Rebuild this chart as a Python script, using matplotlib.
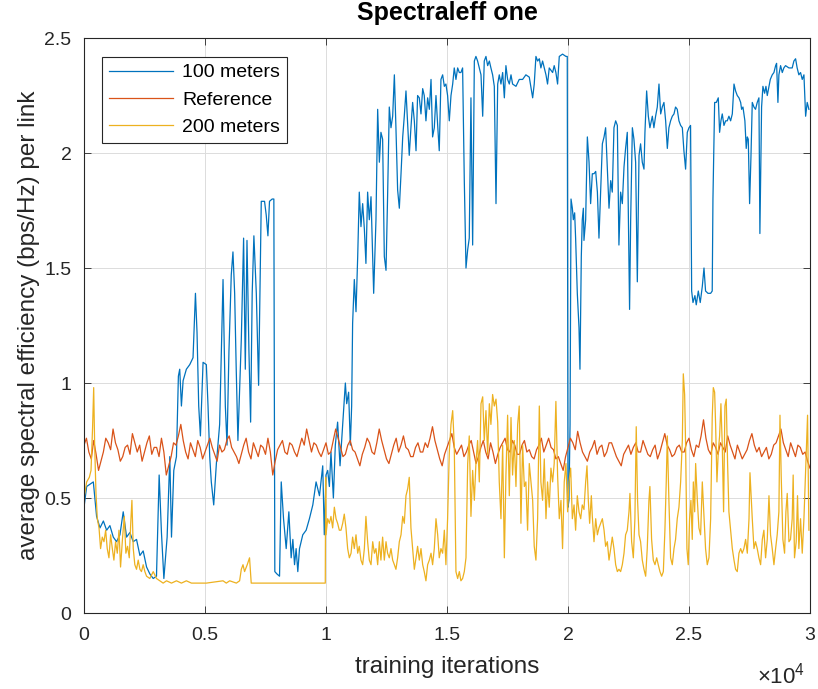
import numpy as np
import matplotlib
matplotlib.use("Agg")
import matplotlib.pyplot as plt
from matplotlib.ticker import FuncFormatter

# ---- data (iterations, bps/Hz) ----
blue_iters = [
    0, 110, 250, 385, 520, 660, 800, 935, 1070, 1210, 1345, 1485, 1620, 1760, 1895,
    2035, 2170, 2310, 2445, 2585, 2720, 2860, 2995, 3105, 3200, 3300, 3435, 3545, 3615,
    3710, 3820, 3900, 3955, 4025, 4095, 4230, 4370, 4505, 4605, 4670, 4740, 4810, 4920,
    5055, 5125, 5195, 5260, 5360, 5470, 5605, 5745, 5840, 5910, 5990, 6085, 6155, 6225,
    6290, 6360, 6500, 6595, 6665, 6735, 6815, 6885, 6950, 7020, 7120, 7215, 7325, 7460,
    7530, 7600, 7665, 7775, 7845, 7885, 7970, 8080, 8150, 8245, 8355, 8465, 8560, 8630,
    8700, 8765, 8835, 8905, 9040, 9180, 9315, 9455, 9590, 9730, 9865, 9930,
    10000, 10070, 10140, 10205, 10305, 10385, 10480, 10580, 10690, 10800, 10855, 10935,
    11005, 11060, 11100, 11170, 11240, 11310, 11375, 11445, 11515, 11585, 11650, 11720,
    11790, 11860, 11930, 11970, 12065, 12135, 12205, 12270, 12340, 12410, 12480, 12545,
    12615, 12685, 12755, 12825, 12890, 12960, 13030, 13100, 13170, 13235, 13305, 13375,
    13440, 13510, 13580, 13650, 13720, 13785, 13855, 13925, 13995, 14060, 14130, 14200,
    14270, 14340, 14405, 14475, 14545, 14615, 14680, 14750, 14820, 14890, 14955, 15025,
    15095, 15165, 15235, 15300, 15370, 15440, 15510, 15575, 15645, 15715, 15785, 15855,
    15920, 15990, 16060, 16130, 16195, 16265, 16335, 16405, 16475, 16540, 16610, 16680,
    16750, 16815, 16885, 16955, 17025, 17095, 17160, 17230, 17300, 17370, 17435, 17505,
    17575, 17645, 17710, 17850, 17985, 18125, 18260, 18400, 18540, 18605, 18675, 18745,
    18815, 18880, 18950, 19090, 19155, 19225, 19365, 19430, 19500, 19570, 19640, 19775,
    19915, 19970,
    20000, 20040, 20085, 20125, 20180, 20220, 20275, 20315, 20385, 20455, 20495, 20550,
    20590, 20635, 20660, 20730, 20800, 20870, 20935, 21005, 21075, 21145, 21215, 21280,
    21350, 21420, 21490, 21555, 21625, 21695, 21765, 21830, 21900, 21970, 22040, 22105,
    22175, 22245, 22315, 22380, 22450, 22545, 22590, 22660, 22725, 22795, 22865, 22935,
    23000, 23070, 23140, 23180, 23250, 23320, 23385, 23485, 23550, 23620, 23690, 23760,
    23830, 23895, 23965, 24035, 24105, 24170, 24240, 24310, 24380, 24445, 24515, 24585,
    24655, 24725, 24790, 24860, 24930, 25000, 25065, 25110, 25165, 25245, 25300, 25385,
    25465, 25550, 25620, 25685, 25785, 25895, 25960, 25990, 26060, 26130, 26210, 26265,
    26320, 26375, 26445, 26515, 26580, 26650, 26720, 26790, 26860, 26925, 26995, 27065,
    27135, 27175, 27230, 27310, 27365, 27410, 27450, 27505, 27560, 27615, 27685, 27750,
    27820, 27890, 27930, 28000, 28055, 28125, 28180, 28235, 28305, 28360, 28440, 28510,
    28580, 28620, 28675, 28715, 28785, 28855, 28920, 28990, 29130, 29265, 29335, 29405,
    29470, 29540, 29610, 29680, 29750, 29820, 29885, 29955,
]
blue_vals = [
    0.46, 0.55, 0.56, 0.57, 0.42, 0.37, 0.40, 0.36, 0.38, 0.33, 0.31, 0.34, 0.44, 0.33, 0.35,
    0.31, 0.32, 0.25, 0.27, 0.20, 0.17, 0.15, 0.16, 0.60, 0.35, 0.15, 0.33, 0.68, 0.33,
    0.62, 0.68, 1.03, 1.06, 0.90, 1.01, 1.06, 1.08, 1.11, 1.39, 1.22, 0.90, 0.77, 1.09,
    1.08, 0.90, 0.68, 0.57, 0.47, 0.65, 0.82, 1.45, 0.90, 0.73, 1.14, 1.47, 1.57, 1.39,
    1.06, 0.75, 1.19, 1.63, 1.06, 1.62, 1.14, 0.83, 1.39, 1.64, 1.39, 0.99, 1.79, 1.79,
    1.73, 1.64, 1.79, 1.80, 1.80, 0.18, 0.17, 0.16, 0.57, 0.41, 0.28, 0.44, 0.24, 0.32,
    0.21, 0.28, 0.18, 0.28, 0.34, 0.36, 0.41, 0.47, 0.57, 0.51, 0.64, 0.34,
    0.60, 0.62, 0.55, 0.70, 0.50, 0.73, 0.83, 0.64, 0.82, 1.00, 0.91, 0.96,
    0.73, 0.90, 1.26, 1.45, 1.31, 1.55, 1.83, 1.68, 1.78, 1.67, 1.52, 1.83,
    1.71, 1.81, 1.55, 1.39, 1.71, 2.19, 1.96, 2.09, 2.06, 1.55, 1.49, 1.81,
    2.20, 2.11, 2.16, 2.34, 2.11, 1.84, 1.76, 1.91, 2.07, 2.16, 2.27, 2.12,
    1.99, 2.11, 2.22, 2.14, 2.01, 2.25, 2.24, 2.17, 2.28, 2.25, 2.14, 2.24,
    2.19, 2.32, 2.07, 2.11, 2.25, 2.12, 2.01, 2.32, 2.34, 2.29, 2.30, 2.25,
    2.14, 2.25, 2.30, 2.37, 2.32, 2.37, 2.35, 2.35, 2.37, 1.88, 1.50, 1.58,
    1.63, 2.24, 1.60, 2.40, 2.42, 2.40, 2.37, 2.34, 2.16, 2.40, 2.42, 2.38,
    2.40, 2.37, 2.34, 2.29, 1.78, 2.30, 2.34, 2.30, 2.35, 2.24, 2.38, 2.32,
    2.30, 2.34, 2.30, 2.29, 2.32, 2.32, 2.34, 2.33, 2.24, 2.30, 2.42, 2.40,
    2.41, 2.37, 2.40, 2.34, 2.30, 2.37, 2.35, 2.38, 2.35, 2.30, 2.42, 2.43,
    2.42, 2.42,
    0.46, 0.49, 0.82, 1.80, 1.76, 1.71, 1.74, 1.63, 1.39, 1.24, 1.06, 1.55,
    1.71, 1.76, 1.62, 1.71, 2.07, 1.96, 1.78, 1.91, 1.91, 1.92, 1.83, 1.63,
    1.84, 2.04, 2.07, 2.11, 1.93, 1.76, 1.88, 1.83, 2.11, 2.14, 2.12, 1.60,
    1.83, 1.78, 1.94, 2.02, 2.09, 1.32, 1.71, 2.11, 2.06, 1.96, 1.44, 1.99,
    2.04, 1.96, 1.93, 2.09, 2.27, 2.16, 2.11, 2.16, 2.11, 2.16, 2.20, 2.30,
    2.17, 2.20, 2.22, 2.14, 2.02, 2.11, 2.14, 2.16, 2.17, 2.20, 2.19, 2.14,
    2.12, 2.11, 2.01, 1.93, 2.09, 2.11, 2.12, 1.40, 1.35, 1.38, 1.34, 1.40,
    1.35, 1.42, 1.50, 1.40, 1.39, 1.39, 1.40, 1.80, 2.22, 2.22, 2.24, 2.09,
    2.14, 2.17, 2.12, 2.14, 2.14, 2.16, 2.14, 2.17, 2.30, 2.27, 2.25, 2.24,
    2.22, 2.19, 2.20, 2.14, 2.02, 2.07, 2.06, 1.78, 1.98, 2.22, 2.20, 2.19,
    2.22, 2.24, 1.65, 2.20, 2.29, 2.26, 2.29, 2.25, 2.29, 2.32, 2.34, 2.35,
    2.38, 2.39, 2.22, 2.34, 2.38, 2.35, 2.37, 2.38, 2.37, 2.37, 2.40, 2.41,
    2.37, 2.34, 2.35, 2.32, 2.34, 2.16, 2.22, 2.19,
]

# reference curve, one reading every 100 iterations
ref_iters = np.arange(0, 30001, 100)
ref_vals = [
    0.73, 0.76, 0.70, 0.67, 0.75, 0.69, 0.62, 0.66, 0.70, 0.76, 0.74, 0.71, 0.80, 0.74, 0.71,
    0.66, 0.68, 0.72, 0.73, 0.69, 0.78, 0.74, 0.70, 0.73, 0.66, 0.70, 0.74, 0.77, 0.69, 0.72,
    0.72, 0.68, 0.76, 0.70, 0.60, 0.64, 0.68, 0.74, 0.73, 0.77, 0.82, 0.75, 0.70, 0.67, 0.74,
    0.71, 0.68, 0.75, 0.72, 0.67, 0.70, 0.73, 0.76, 0.72, 0.69, 0.66, 0.73, 0.70, 0.71, 0.75,
    0.77, 0.72, 0.70, 0.68, 0.65, 0.69, 0.73, 0.76, 0.70, 0.67, 0.74, 0.71, 0.68, 0.73, 0.72,
    0.69, 0.76, 0.70, 0.60, 0.66, 0.71, 0.73, 0.75, 0.70, 0.69, 0.74, 0.73, 0.70, 0.68, 0.72,
    0.76, 0.73, 0.80, 0.75, 0.70, 0.74, 0.73, 0.70, 0.68, 0.71, 0.74, 0.69, 0.70, 0.75, 0.80,
    0.76, 0.72, 0.68, 0.69, 0.73, 0.75, 0.71, 0.70, 0.67, 0.64, 0.69, 0.72, 0.76, 0.74, 0.70,
    0.69, 0.74, 0.80, 0.75, 0.71, 0.67, 0.65, 0.69, 0.73, 0.76, 0.70, 0.73, 0.77, 0.72, 0.71,
    0.68, 0.68, 0.72, 0.74, 0.70, 0.70, 0.74, 0.72, 0.76, 0.81, 0.75, 0.71, 0.67, 0.64, 0.69,
    0.72, 0.75, 0.78, 0.72, 0.69, 0.71, 0.73, 0.68, 0.70, 0.73, 0.75, 0.70, 0.65, 0.68, 0.72,
    0.75, 0.70, 0.67, 0.74, 0.70, 0.65, 0.69, 0.72, 0.74, 0.76, 0.71, 0.70, 0.75, 0.73, 0.69,
    0.69, 0.73, 0.75, 0.70, 0.71, 0.68, 0.67, 0.71, 0.73, 0.76, 0.70, 0.73, 0.76, 0.72, 0.71,
    0.67, 0.68, 0.65, 0.62, 0.68, 0.72, 0.76, 0.74, 0.71, 0.79, 0.74, 0.70, 0.68, 0.66, 0.70,
    0.72, 0.75, 0.69, 0.72, 0.73, 0.68, 0.70, 0.74, 0.74, 0.71, 0.68, 0.66, 0.64, 0.69, 0.71,
    0.73, 0.69, 0.72, 0.74, 0.70, 0.70, 0.75, 0.72, 0.69, 0.68, 0.71, 0.73, 0.67, 0.70, 0.74,
    0.78, 0.73, 0.71, 0.68, 0.69, 0.72, 0.73, 0.70, 0.70, 0.74, 0.76, 0.71, 0.68, 0.73, 0.72,
    0.77, 0.84, 0.76, 0.71, 0.69, 0.74, 0.72, 0.69, 0.74, 0.72, 0.70, 0.77, 0.73, 0.70, 0.67,
    0.73, 0.70, 0.67, 0.69, 0.71, 0.75, 0.78, 0.73, 0.70, 0.72, 0.68, 0.70, 0.72, 0.67, 0.69,
    0.73, 0.74, 0.77, 0.80, 0.74, 0.71, 0.68, 0.74, 0.71, 0.68, 0.73, 0.72, 0.69, 0.70, 0.66,
    0.63,
]

yellow_iters = [
    0, 110, 220, 290, 355, 400, 440, 495, 550, 620, 685, 755, 825, 895, 960, 1030, 1100,
    1170, 1235, 1305, 1375, 1445, 1510, 1595, 1665, 1730, 1800, 1870, 1935, 1980, 2035,
    2100, 2170, 2240, 2310, 2375, 2445, 2515, 2585, 2720, 2860, 2995, 3135, 3270, 3410,
    3615, 3820, 4025, 4230, 4440, 4645, 5055, 5745, 5880, 6020, 6295, 6430, 6500, 6570,
    6635, 6745, 6840, 6910, 9970, 9985,
    10000, 10070, 10140, 10205, 10275, 10345, 10415, 10480, 10550, 10620, 10690, 10755,
    10825, 10895, 10965, 11035, 11100, 11170, 11240, 11310, 11375, 11445, 11515, 11585,
    11650, 11720, 11790, 11860, 11930, 12000, 12065, 12135, 12205, 12270, 12340, 12410,
    12480, 12545, 12615, 12685, 12755, 12825, 12890, 12960, 13030, 13100, 13170, 13235,
    13305, 13375, 13440, 13510, 13580, 13650, 13720, 13785, 13855, 13925, 13995, 14060,
    14130, 14200, 14270, 14340, 14405, 14475, 14545, 14615, 14680, 14750, 14820, 14890,
    14955, 15025, 15095, 15165, 15235, 15300, 15370, 15440, 15510, 15575, 15645, 15715,
    15785, 15855, 15920, 15990, 16060, 16130, 16195, 16265, 16335, 16405, 16475, 16540,
    16610, 16680, 16750, 16815, 16885, 16955, 17025, 17095, 17160, 17230, 17300, 17370,
    17435, 17505, 17575, 17645, 17710, 17780, 17850, 17920, 17985, 18055, 18125, 18195,
    18260, 18330, 18400, 18470, 18540, 18605, 18675, 18745, 18815, 18880, 18950, 19020,
    19090, 19155, 19225, 19295, 19365, 19430, 19500, 19570, 19640, 19710, 19775, 19845,
    19915, 19985,
    20040, 20110, 20180, 20250, 20315, 20385, 20455, 20525, 20590, 20660, 20730, 20785,
    20840, 20895, 20965, 21005, 21075, 21145, 21215, 21280, 21350, 21420, 21490, 21555,
    21625, 21695, 21765, 21830, 21900, 21970, 22040, 22105, 22175, 22245, 22315, 22380,
    22450, 22520, 22560, 22630, 22700, 22765, 22820, 22875, 22935, 23000, 23070, 23140,
    23210, 23275, 23345, 23385, 23455, 23525, 23595, 23665, 23730, 23800, 23870, 23940,
    24005, 24060, 24105, 24170, 24240, 24310, 24380, 24445, 24515, 24585, 24655, 24725,
    24765, 24820, 24860, 24915, 24970, 25025, 25080, 25135, 25180, 25235, 25275, 25345,
    25410, 25480, 25550, 25620, 25685, 25755, 25825, 25895, 25960, 26005, 26060, 26100,
    26155, 26210, 26265, 26320, 26375, 26430, 26485, 26540, 26595, 26650, 26720, 26790,
    26860, 26925, 26995, 27065, 27135, 27200, 27270, 27340, 27410, 27480, 27520, 27575,
    27615, 27685, 27750, 27820, 27890, 27960, 28030, 28095, 28165, 28235, 28305, 28370,
    28440, 28510, 28580, 28645, 28715, 28760, 28810, 28880, 28950, 29005, 29060, 29130,
    29195, 29265, 29305, 29360, 29430, 29485, 29540, 29610, 29680, 29750, 29820, 29860,
    29900, 29955,
]
yellow_vals = [
    0.50, 0.57, 0.59, 0.62, 0.81, 0.98, 0.73, 0.52, 0.41, 0.37, 0.28, 0.33, 0.31, 0.36, 0.28,
    0.24, 0.34, 0.28, 0.23, 0.31, 0.26, 0.36, 0.20, 0.33, 0.42, 0.26, 0.29, 0.24, 0.40, 0.49,
    0.28, 0.21, 0.19, 0.23, 0.19, 0.18, 0.21, 0.18, 0.16, 0.15, 0.18, 0.15, 0.14, 0.13, 0.14,
    0.13, 0.14, 0.13, 0.14, 0.13, 0.13, 0.13, 0.14, 0.13, 0.14, 0.13, 0.14, 0.19, 0.21,
    0.18, 0.21, 0.24, 0.13, 0.13, 0.59,
    0.34, 0.41, 0.39, 0.42, 0.37, 0.46, 0.41, 0.39, 0.36, 0.36, 0.39, 0.43,
    0.37, 0.28, 0.24, 0.26, 0.33, 0.28, 0.34, 0.26, 0.29, 0.23, 0.21, 0.28,
    0.42, 0.31, 0.23, 0.21, 0.31, 0.26, 0.28, 0.21, 0.31, 0.23, 0.33, 0.23,
    0.31, 0.26, 0.24, 0.28, 0.23, 0.21, 0.19, 0.24, 0.31, 0.34, 0.42, 0.39,
    0.51, 0.54, 0.59, 0.37, 0.28, 0.19, 0.24, 0.29, 0.23, 0.28, 0.21, 0.18,
    0.14, 0.21, 0.23, 0.26, 0.21, 0.28, 0.41, 0.34, 0.24, 0.28, 0.26, 0.36,
    0.21, 0.41, 0.70, 0.82, 0.88, 0.73, 0.18, 0.15, 0.18, 0.14, 0.15, 0.18,
    0.24, 0.65, 0.77, 0.42, 0.62, 0.49, 0.65, 0.75, 0.57, 0.91, 0.94, 0.75,
    0.88, 0.69, 0.91, 0.82, 0.95, 0.90, 0.93, 0.83, 0.57, 0.41, 0.73, 0.24,
    0.60, 0.86, 0.51, 0.85, 0.60, 0.75, 0.55, 0.82, 0.90, 0.39, 0.73, 0.55,
    0.57, 0.36, 0.65, 0.57, 0.49, 0.29, 0.23, 0.41, 0.90, 0.57, 0.49, 0.67,
    0.41, 0.57, 0.46, 0.63, 0.57, 0.65, 0.92, 0.60, 0.41, 0.49, 0.28, 0.57,
    0.65, 0.44,
    0.57, 0.63, 0.41, 0.47, 0.36, 0.51, 0.44, 0.41, 0.47, 0.45, 0.57, 0.64,
    0.49, 0.39, 0.51, 0.42, 0.31, 0.41, 0.34, 0.37, 0.39, 0.41, 0.36, 0.29,
    0.31, 0.23, 0.28, 0.33, 0.28, 0.21, 0.18, 0.19, 0.18, 0.21, 0.26, 0.34,
    0.36, 0.44, 0.52, 0.31, 0.24, 0.41, 0.81, 0.49, 0.34, 0.31, 0.23, 0.19,
    0.16, 0.28, 0.49, 0.55, 0.32, 0.23, 0.21, 0.24, 0.21, 0.18, 0.16, 0.18,
    0.36, 0.57, 0.77, 0.49, 0.24, 0.21, 0.28, 0.32, 0.41, 0.46, 0.57, 0.75,
    1.04, 0.95, 0.73, 0.28, 0.21, 0.41, 0.49, 0.32, 0.57, 0.44, 0.65, 0.49,
    0.37, 0.34, 0.57, 0.42, 0.28, 0.21, 0.24, 0.41, 0.85, 0.98, 0.96, 0.82,
    0.57, 0.70, 0.77, 0.91, 0.73, 0.44, 0.90, 0.93, 0.65, 0.44, 0.36, 0.28,
    0.23, 0.19, 0.18, 0.26, 0.28, 0.26, 0.28, 0.32, 0.26, 0.41, 0.61, 0.49,
    0.41, 0.28, 0.31, 0.28, 0.24, 0.21, 0.32, 0.36, 0.24, 0.32, 0.51, 0.34,
    0.28, 0.21, 0.28, 0.34, 0.44, 0.86, 0.60, 0.32, 0.26, 0.44, 0.52, 0.31,
    0.32, 0.41, 0.60, 0.24, 0.31, 0.51, 0.28, 0.41, 0.26, 0.41, 0.62, 0.73,
    0.86, 0.36,
]

series_labels = ["100 meters", "Reference", "200 meters"]
colors = ["#0072BD", "#D95319", "#EDB120"]
x_ticks = [0, 5000, 10000, 15000, 20000, 25000, 30000]
y_ticks = [0, 0.5, 1, 1.5, 2, 2.5]

plt.rcParams["font.family"] = ["Liberation Sans", "DejaVu Sans"]
plt.rcParams["mathtext.fontset"] = "custom"
plt.rcParams["mathtext.rm"] = "Liberation Sans"

fig = plt.figure(figsize=(8.18, 6.89), dpi=100)
ax = fig.add_axes([0.1027, 0.1103, 0.8875, 0.8345])

axis_col = "#262626"
ax.plot(blue_iters, blue_vals, color=colors[0], lw=0.9, label=series_labels[0])
ax.plot(ref_iters, ref_vals, color=colors[1], lw=0.9, label=series_labels[1])
ax.plot(yellow_iters, yellow_vals, color=colors[2], lw=0.9, label=series_labels[2])

ax.set_xlim(0, 30000)
ax.set_ylim(0, 2.5)
ax.set_xticks(x_ticks)
ax.set_yticks(y_ticks)
ax.xaxis.set_major_formatter(FuncFormatter(lambda v, _: f"{v / 1e4:g}"))
ax.yaxis.set_major_formatter(FuncFormatter(lambda v, _: f"{v:g}"))
ax.tick_params(direction="in", length=5, width=0.6, colors=axis_col,
               labelsize=14, top=True, right=True)
ax.tick_params(axis="x", pad=10)
ax.tick_params(axis="y", pad=9)
for sp in ax.spines.values():
    sp.set_color(axis_col)
    sp.set_linewidth(0.8)
ax.grid(True, color="#dcdcdc", lw=0.7)
ax.set_axisbelow(True)

ax.set_xlabel("training iterations", fontsize=17.5, color=axis_col, labelpad=9)
ax.set_ylabel("average spectral efficiency (bps/Hz) per link", fontsize=17.5,
              color=axis_col, labelpad=3)
ax.set_title("Spectraleff one", fontsize=18, fontweight="bold", color="black", pad=13)
ax.text(0.993, -0.108, r"$\times\mathregular{10^{4}}$", transform=ax.transAxes,
        ha="right", va="center", fontsize=16, color=axis_col)

leg = ax.legend(loc="upper left", bbox_to_anchor=(0.025, 0.967), borderaxespad=0,
                fontsize=14, handlelength=3.3, handletextpad=0.45, labelspacing=0.5,
                fancybox=False, framealpha=1, edgecolor=axis_col, borderpad=0.35)
leg.get_frame().set_linewidth(0.8)

fig.savefig("out.png", dpi=100)
